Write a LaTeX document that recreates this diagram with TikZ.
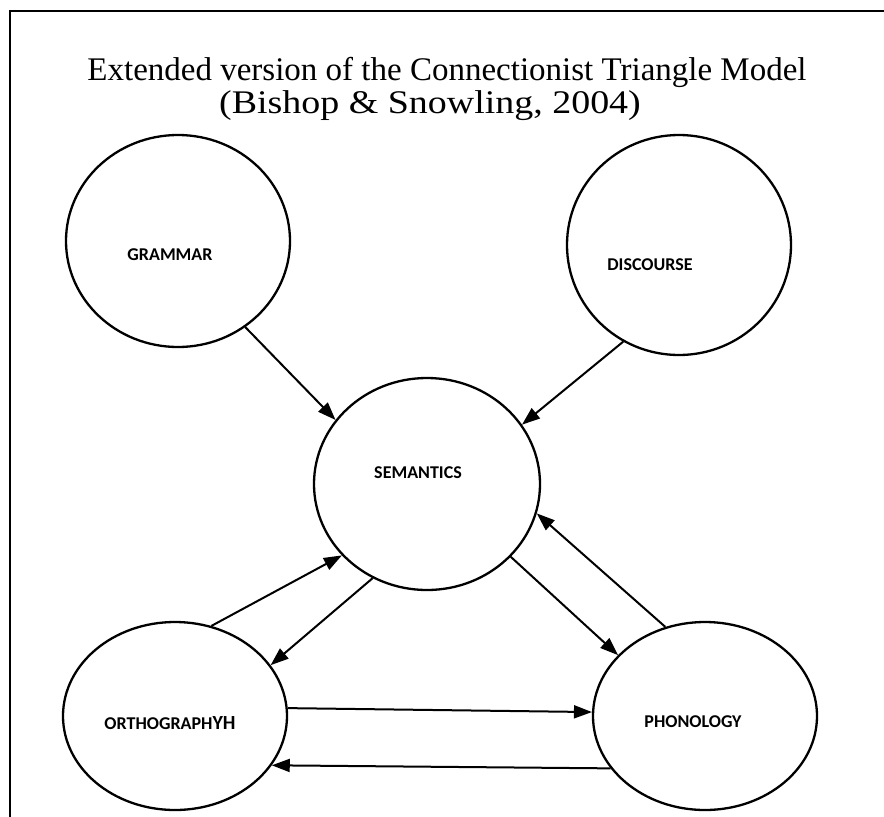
\documentclass[tikz,border=0pt]{standalone}
\usepackage{fontspec}
\setmainfont{Liberation Serif}
\newfontfamily\lblfont{Carlito}
\usetikzlibrary{arrows.meta,shapes.geometric}
\begin{document}
\begin{tikzpicture}[x=1pt,y=-1pt,
  oval/.style={draw,ellipse,line width=2.3pt,inner sep=0pt},
  lbl/.style={font=\lblfont\bfseries\fontsize{18}{20}\selectfont,inner sep=0pt},
  conn/.style={line width=2pt,-{Triangle[length=18pt,width=13pt]}},
  ttl/.style={font=\fontsize{33}{36}\selectfont,inner sep=0pt,anchor=base}]
\useasboundingbox (0,0) rectangle (884,817);
\draw[line width=2.6pt] (10,817) -- (10,11) -- (884,11);
\node[ttl] (t1) at (447,80) {Extended version of the Connectionist Triangle Model};
\node[ttl,xscale=1.15] (t2) at (430,113) {(Bishop \& Snowling, 2004)};
\node[oval,minimum width=224pt,minimum height=212pt] (gram) at (178,241) {};
\node[oval,minimum width=224pt,minimum height=220pt] (disc) at (679,245) {};
\node[oval,minimum width=226pt,minimum height=212pt] (sem) at (427,484) {};
\node[oval,minimum width=224pt,minimum height=188pt] (orth) at (175,716) {};
\node[oval,minimum width=224pt,minimum height=188pt] (phon) at (705,716) {};
\node[lbl] (gl) at (170,255) {GRAMMAR};
\node[lbl] (dl) at (650,265) {DISCOURSE};
\node[lbl] (sl) at (418,473) {SEMANTICS};
\node[lbl] (ol) at (170,723) {ORTHOGRAPH{\fontsize{20}{20}\selectfont YH}};
\node[lbl] (pl) at (693,722) {PHONOLOGY};
\draw[conn] (gram.-52.7) -- (sem.145.7);
\draw[conn] (disc.-120.5) -- (sem.32.4);
\draw[conn] (sem.-41.1) -- (phon.145.9);
\draw[conn] (phon.114.4) -- (sem.-15.3);
\draw[conn] (orth.68.5) -- (sem.-140.5);
\draw[conn] (sem.-120) -- (orth.28.3);
\draw[conn] (orth.4.6) -- (phon.178.4);
\draw[conn] (phon.-151.3) -- (orth.-27.3);
\end{tikzpicture}
\end{document}
